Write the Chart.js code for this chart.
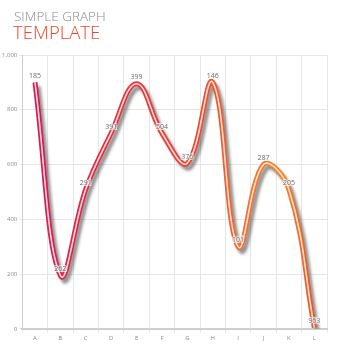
<!DOCTYPE html>
<html>
<head>
<meta charset="utf-8">
<script src="https://cdn.jsdelivr.net/npm/chart.js@4/dist/chart.umd.min.js"></script>
<style>
  html, body { margin: 0; padding: 0; background: #fff; }
  #wrap { position: relative; width: 350px; height: 350px; }
  #chart { position: absolute; left: 0; top: 0; }
  .t1 { position: absolute; left: 14px; top: 7px; font-family: "Open Sans", sans-serif; font-weight: 300; font-size: 13.5px; color: #8a8a8a; }
  .t2 { position: absolute; left: 13px; top: 19px; font-family: "Open Sans", sans-serif; font-weight: 300; font-size: 18.5px; color: #e8472d; }
</style>
</head>
<body>
<div id="wrap">
  <canvas id="chart" width="350" height="350"></canvas>
  <div class="t1">SIMPLE GRAPH</div>
  <div class="t2">TEMPLATE</div>
</div>
<script>
// Categories along the x axis
const categories = ["A", "B", "C", "D", "E", "F", "G", "H", "I", "J", "K", "L"];
// Series values plotted on the y axis
const values = [900, 195, 510, 715, 895, 715, 605, 900, 300, 600, 510, 5];
// Numbers printed above each point
const pointNotes = ["185", "262", "291", "391", "399", "504", "376", "146", "101", "287", "205", "963"];
// Y axis ticks
const yTicks = [0, 200, 400, 600, 800, 1000];

const canvas = document.getElementById("chart");
const ctx = canvas.getContext("2d");

function lineGradient(chart) {
  const area = chart.chartArea;
  if (!area) return "#e53935";
  const g = chart.ctx.createLinearGradient(area.left, 0, area.right, 0);
  g.addColorStop(0.0, "#d4145a");
  g.addColorStop(0.3, "#e8303a");
  g.addColorStop(0.55, "#ee3f2c");
  g.addColorStop(0.7, "#f4682a");
  g.addColorStop(0.85, "#f68322");
  g.addColorStop(1.0, "#f0401e");
  return g;
}

// Soft grey drop shadow under the main stroke
const shadowPlugin = {
  id: "lineShadow",
  beforeDatasetDraw(chart, args) {
    if (args.index === 0) {
      chart.ctx.save();
      chart.ctx.shadowColor = "rgba(60,60,60,0.55)";
      chart.ctx.shadowBlur = 3;
      chart.ctx.shadowOffsetX = 3;
      chart.ctx.shadowOffsetY = 4;
    }
  },
  afterDatasetDraw(chart, args) {
    if (args.index === 0) chart.ctx.restore();
  }
};

// Small grey numbers above each point
const notesPlugin = {
  id: "pointNotes",
  afterDatasetsDraw(chart) {
    const meta = chart.getDatasetMeta(0);
    const c = chart.ctx;
    c.save();
    c.font = "7px 'Open Sans', sans-serif";
    c.textAlign = "center";
    c.textBaseline = "bottom";
    meta.data.forEach((pt, i) => {
      const txt = pointNotes[i];
      c.lineWidth = 2;
      c.strokeStyle = "rgba(255,255,255,0.7)";
      c.strokeText(txt, pt.x, pt.y - 3);
      c.fillStyle = "#6a6a6a";
      c.fillText(txt, pt.x, pt.y - 3);
    });
    c.restore();
  }
};

new Chart(ctx, {
  type: "line",
  data: {
    labels: categories,
    datasets: [
      {
        // coloured outer stroke, drawn underneath
        data: values,
        order: 1,
        borderColor: (c) => lineGradient(c.chart),
        borderWidth: 5,
        tension: 0.4,
        pointRadius: 0,
        fill: false
      },
      {
        // pale centre stripe, drawn on top
        data: values,
        order: 0,
        borderColor: "rgba(255,236,236,0.9)",
        borderWidth: 1.6,
        tension: 0.4,
        pointRadius: 0,
        fill: false
      }
    ]
  },
  options: {
    responsive: false,
    animation: false,
    events: [],
    layout: { padding: { top: 55, right: 23, left: 0, bottom: 6 } },
    plugins: { legend: { display: false }, tooltip: { enabled: false }, title: { display: false } },
    scales: {
      x: {
        offset: true,
        grid: { offset: true, color: "#e6e6e6", lineWidth: 1, tickLength: 4, drawTicks: true },
        border: { color: "#cfcfcf", width: 2 },
        ticks: { color: "#888", font: { size: 6, family: "'Open Sans', sans-serif" }, padding: 2 }
      },
      y: {
        min: 0,
        max: 1000,
        afterBuildTicks: (axis) => { axis.ticks = yTicks.map(v => ({ value: v })); },
        grid: { color: "#e6e6e6", lineWidth: 1, tickLength: 3 },
        border: { color: "#cfcfcf", width: 1 },
        ticks: {
          color: "#888",
          font: { size: 6, family: "'Open Sans', sans-serif" },
          padding: 2,
          callback: (v) => v.toLocaleString("en-US")
        }
      }
    }
  },
  plugins: [shadowPlugin, notesPlugin]
});
</script>
</body>
</html>
